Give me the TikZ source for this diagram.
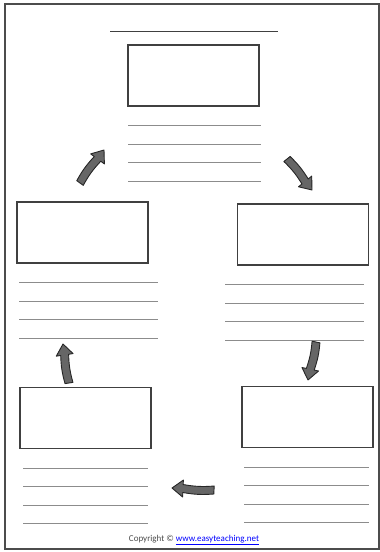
\documentclass[tikz,border=0pt]{standalone}
\usepackage{fontspec}
\newfontfamily\copyfont{Carlito}
\usetikzlibrary{positioning,calc}
\tikzset{
  stepbox/.style    = {rectangle,draw=black!75,line width=1.6pt,minimum width=131pt,minimum height=61pt,inner sep=0pt},
  wline/.style      = {draw=black!45,line width=0.9pt},
  titleline/.style  = {draw=black!75,line width=1pt},
  pageframe/.style  = {draw=black!70,line width=2pt},
  blockarrow/.style = {fill=black!60,draw=black!85,line width=0.9pt,line join=round},
  copynote/.style   = {inner sep=0pt, font=\copyfont\fontsize{9}{10}\selectfont, text=black!70}
}
\newcommand{\DrawStep}[4]{%
  % draws the empty box
  \node[stepbox] (#1) at #2 {};
  % draws the four writing lines under the box
  \foreach \k in {0,...,3}
    \draw[wline] ($(#1.south)+({#3-#4/2},{19+18.5*\k})$) -- ++(#4,0);
}
\newcommand{\DrawArrow}[2]{%
  % base of the arrow head, a bit back from the tip
  \coordinate (#1h) at ($(#2)!11pt!(#1)$);
  % shaft and head as one outlined shape
  \filldraw[blockarrow]
    ($(#1)!4pt!90:(#2)$) -- ($(#1)!4pt!-90:(#2)$)
    to[bend left=7] ($(#1h)!4pt!-90:(#2)$)
    -- ($(#1h)!8.5pt!-90:(#2)$) -- (#2)
    -- ($(#1h)!8.5pt!90:(#2)$) -- ($(#1h)!4pt!90:(#2)$)
    to[bend right=7] ($(#1)!4pt!90:(#2)$) -- cycle;
}
\begin{document}
\begin{tikzpicture}[x=1pt,y=-1pt]
  \useasboundingbox (0,0) rectangle (380,552);
  \draw[pageframe] (5,4) rectangle (378.5,548.5);

  % title line
  \draw[titleline] (110,31) -- (278,31);

  \DrawStep{step1}{(193.5,75.5)}{1}{133}
  \DrawStep{step2}{(303,234.5)}{-8.5}{139}
  \DrawStep{step3}{(307.5,417)}{-1}{125}
  \DrawStep{step4}{(85.5,418)}{0}{125}
  \DrawStep{step5}{(82.5,232.5)}{6}{139}

  % arrow ends
  \coordinate (a1s) at (287,159);
  \coordinate (a1e) at (312,190);
  \coordinate (a2s) at (316,342);
  \coordinate (a2e) at (308,380);
  \coordinate (a3s) at (214,490);
  \coordinate (a3e) at (172,488);
  \coordinate (a4s) at (69,383);
  \coordinate (a4e) at (63,344);
  \coordinate (a5s) at (80,183);
  \coordinate (a5e) at (104,150);

  \DrawArrow{a1s}{a1e}
  \DrawArrow{a2s}{a2e}
  \DrawArrow{a3s}{a3e}
  \DrawArrow{a4s}{a4e}
  \DrawArrow{a5s}{a5e}

  \node[copynote] (copy) at (194,540)
    {Copyright © \textcolor{blue}{\underline{www.easyteaching.net}}};
\end{tikzpicture}
\end{document}
